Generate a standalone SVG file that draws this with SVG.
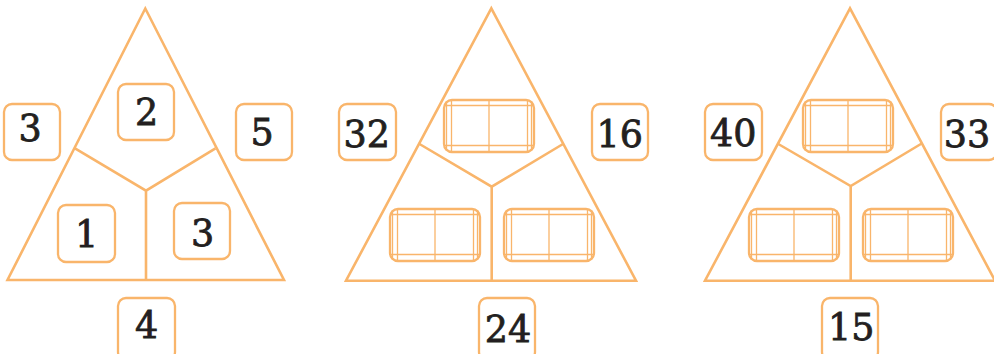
<svg xmlns="http://www.w3.org/2000/svg" xmlns:xlink="http://www.w3.org/1999/xlink" width="994" height="354" viewBox="0 0 994 354">
<style>
.tri{fill:none;stroke:#F9B56B;stroke-width:2.6;stroke-linejoin:miter}
.box{fill:#fff;stroke:#F9B56B;stroke-width:2.3}
.in{stroke:#F9B56B;stroke-width:1.3;fill:none}
.num{font-family:"DejaVu Serif","Liberation Serif",serif;font-size:36.5px;fill:#231f20;stroke:#231f20;stroke-width:0.8;text-anchor:middle}
</style>
<defs>
<g id="empty">
<rect class="box" x="1" y="1" width="90" height="52" rx="8"/>
<path class="in" d="M3.5 2V52M8.5 2V52M46 1V53M84.5 2V52M88.5 2V52M2 6.5H90M2 46.5H90"/>
</g>
</defs>
<rect width="994" height="354" fill="#fff"/>
<g id="triangles">
<g id="tri1">
<path class="tri" d="M145.3 8.5L7.5 280H284Z"/>
<path class="tri" d="M75 148.3L146 190.7L215.5 148.3M146 190.7V280"/>
</g>
<g id="tri2">
<path class="tri" d="M491.3 8.3L346 280.7H636Z"/>
<path class="tri" d="M419.5 144L491.7 186.7L563 144M491.7 186.7V280.7"/>
</g>
<g id="tri3">
<path class="tri" d="M850 8.3L705 280.7H995Z"/>
<path class="tri" d="M778.3 144L850.7 186L921.7 143.5M850.7 186V280.7"/>
</g>
</g>
<g id="t1-left"><rect class="box" x="4" y="104" width="56" height="56" rx="8"/><text class="num" x="30" y="141">3</text></g>
<g id="t1-top"><rect class="box" x="118" y="84" width="56" height="56" rx="8"/><text class="num" x="146.7" y="125">2</text></g>
<g id="t1-right"><rect class="box" x="236" y="104" width="56" height="56" rx="8"/><text class="num" x="262" y="145">5</text></g>
<g id="t1-bl"><rect class="box" x="58" y="205" width="57" height="57" rx="8"/><text class="num" x="86.7" y="247">1</text></g>
<g id="t1-br"><rect class="box" x="174" y="203" width="56" height="56" rx="8"/><text class="num" x="202.7" y="246">3</text></g>
<g id="t1-bottom"><rect class="box" x="118" y="298" width="57" height="62" rx="8"/><text class="num" x="146.7" y="337.7">4</text></g>

<g id="t2-left"><rect class="box" x="339" y="104" width="57" height="56" rx="8"/><text class="num" x="366.7" y="146.7">32</text></g>
<g id="t2-right"><rect class="box" x="592" y="104" width="56" height="56" rx="8"/><text class="num" x="619.7" y="146.7">16</text></g>
<g id="t2-bottom"><rect class="box" x="479" y="298" width="56" height="62" rx="8"/><text class="num" x="508" y="341.7">24</text></g>
<g id="t2-top"><use xlink:href="#empty" href="#empty" x="443" y="99"/></g>
<g id="t2-bl"><use xlink:href="#empty" href="#empty" x="389" y="208"/></g>
<g id="t2-br"><use xlink:href="#empty" href="#empty" x="503" y="208"/></g>

<g id="t3-left"><rect class="box" x="705" y="104" width="57" height="56" rx="8"/><text class="num" x="733.3" y="146">40</text></g>
<g id="t3-right"><rect class="box" x="941" y="104" width="56" height="56" rx="8"/><text class="num" x="967" y="146.7">33</text></g>
<g id="t3-bottom"><rect class="box" x="822" y="298" width="56" height="62" rx="8"/><text class="num" x="851.3" y="340">15</text></g>
<g id="t3-top"><use xlink:href="#empty" href="#empty" x="802" y="99"/></g>
<g id="t3-bl"><use xlink:href="#empty" href="#empty" x="748" y="208"/></g>
<g id="t3-br"><use xlink:href="#empty" href="#empty" x="862" y="208"/></g>
</svg>
